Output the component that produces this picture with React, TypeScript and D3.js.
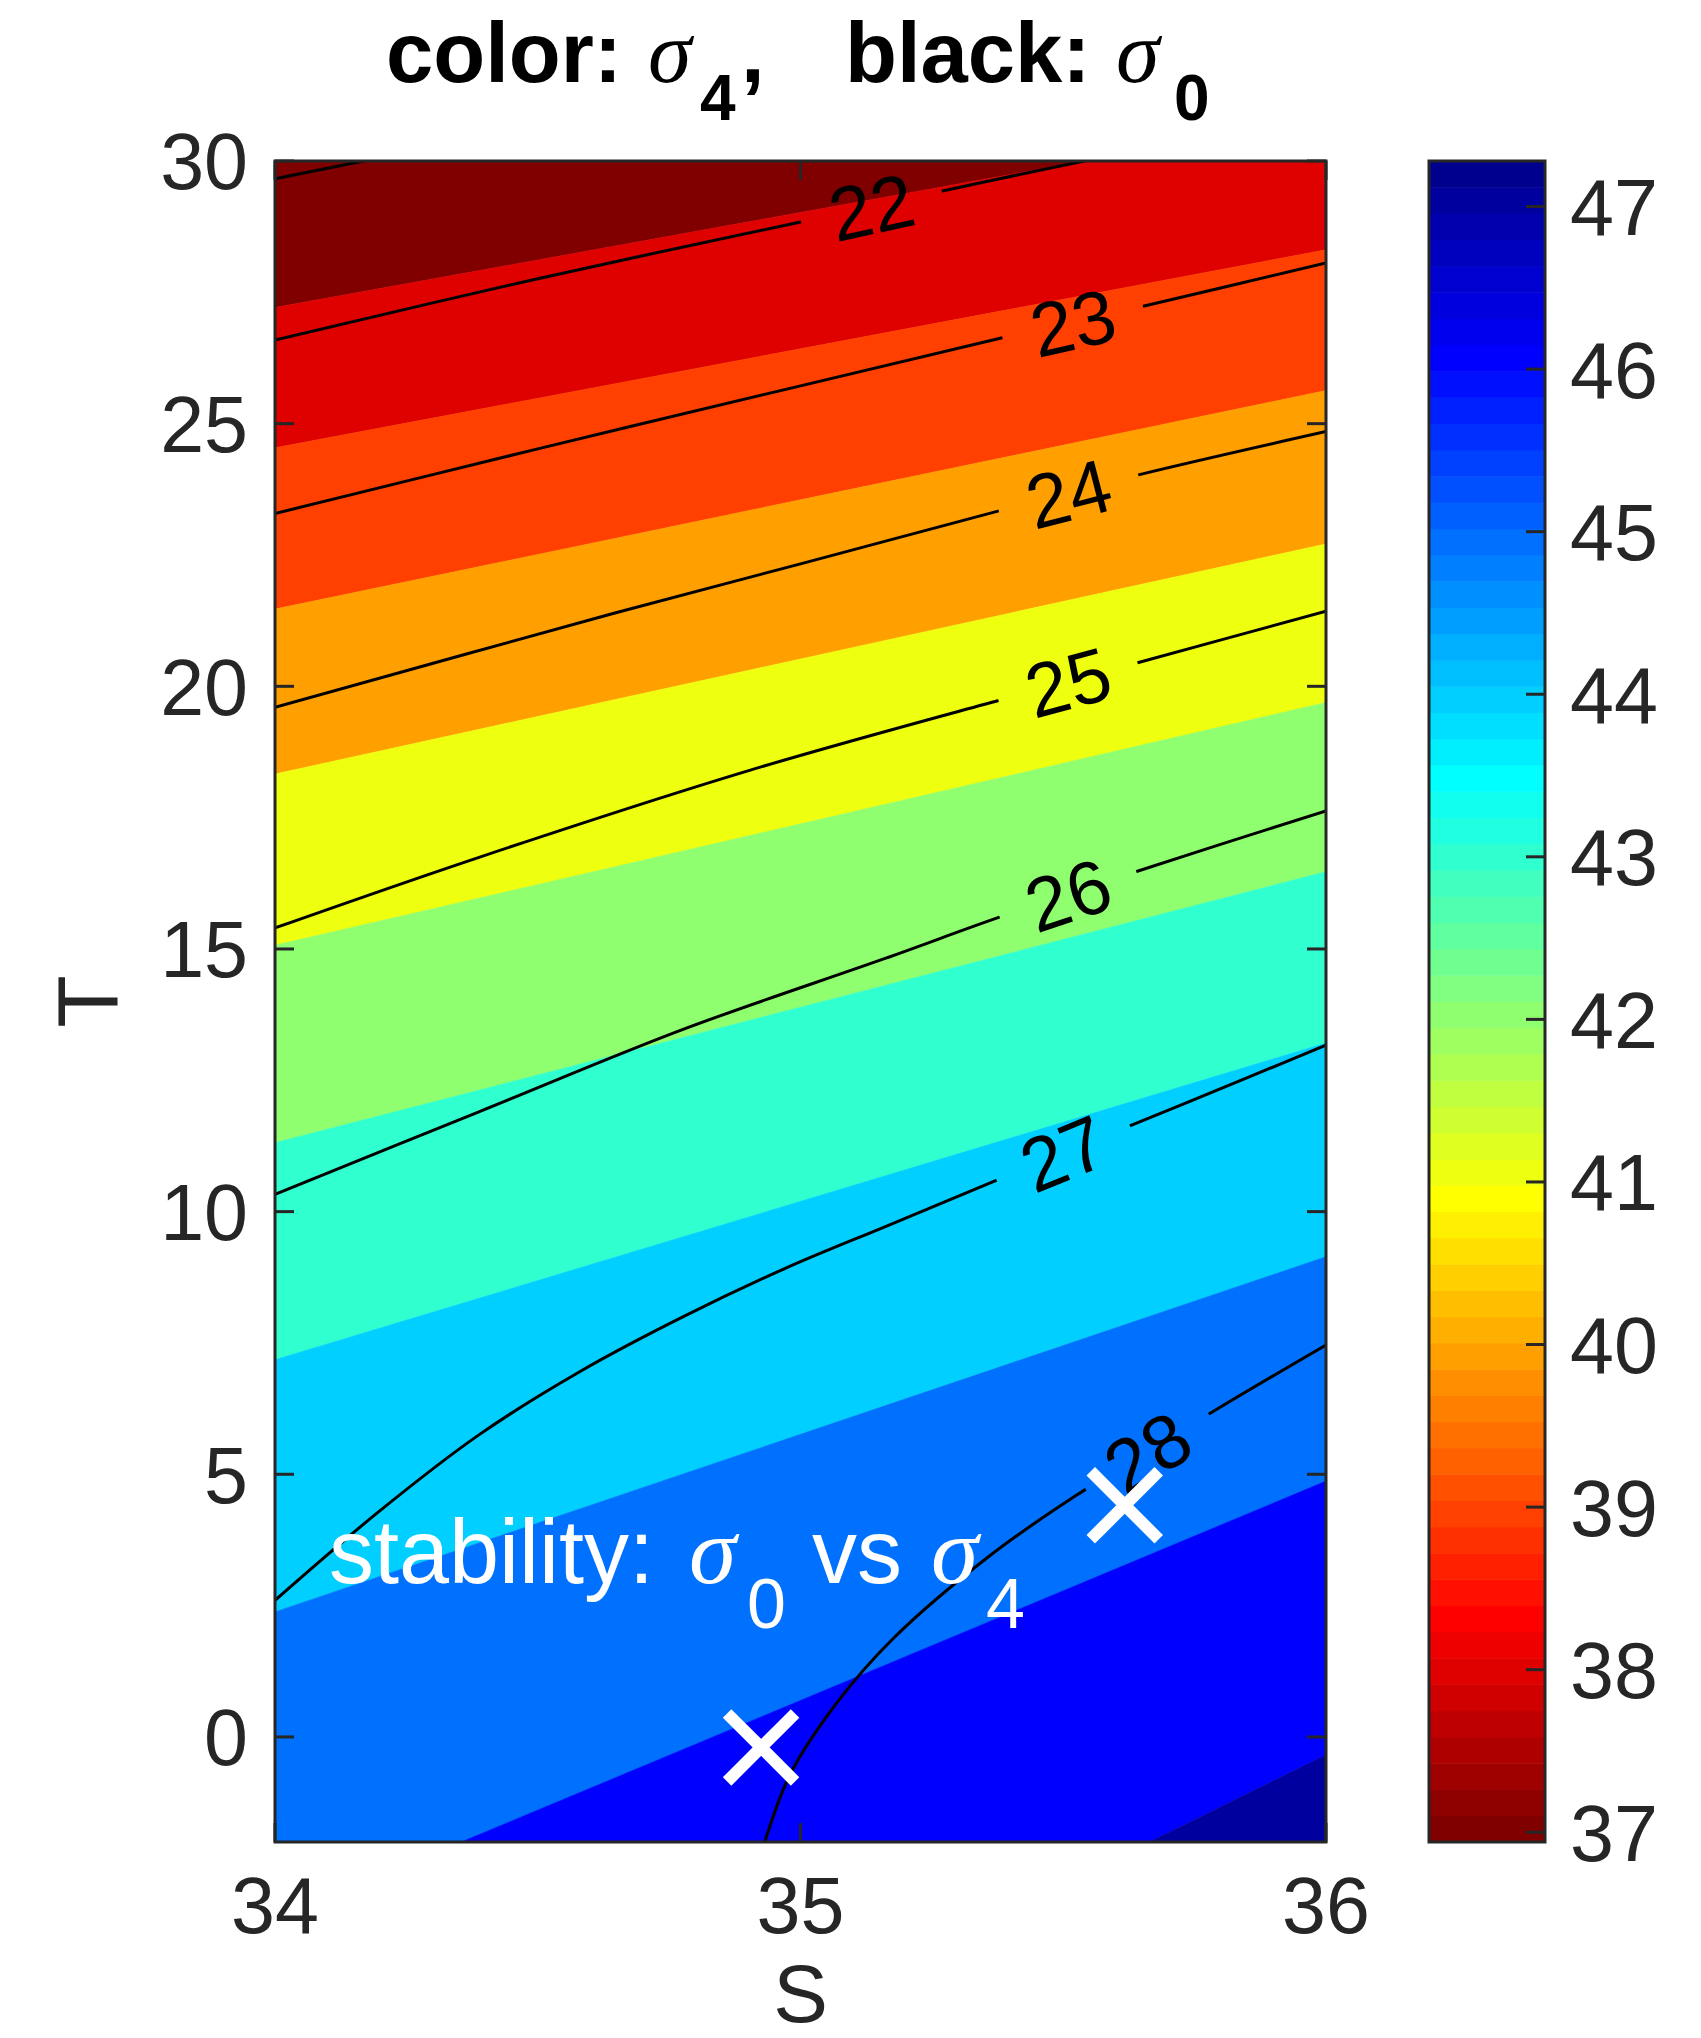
import React from "react";
import * as d3 from "d3";

const W = 1701;
const H = 2038;

// axes
const salinityDomain: [number, number] = [34, 36];
const tempDomain: [number, number] = [-2, 30];
const xTicks = [34, 35, 36];
const yTicks = [0, 5, 10, 15, 20, 25, 30];

// colorbar (sigma4)
const cbarRange: [number, number] = [36.94, 47.28];
const cbarTicks = [37, 38, 39, 40, 41, 42, 43, 44, 45, 46, 47];
const nColors = 64;

// sigma4 filled bands: levels and the T of each band boundary at S=34 and S=36
const sigma4Levels = [37, 38, 39, 40, 41, 42, 43, 44, 45, 46, 47];
const boundaryT_S34 = [27.21, 24.54, 21.47, 18.33, 15.07, 11.31, 7.18, 2.38, -3.48, -10.22];
const boundaryT_S36 = [30.83, 28.31, 25.63, 22.71, 19.69, 16.47, 13.21, 9.14, 4.87, -0.34];

// sigma0 contour lines: [S, T] points
const sigma0_21: [number, number][] = [[34, 29.66], [34.168, 30], [34.25, 30.16]];
const sigma0_22: [number, number][] = [[34, 26.59], [34.5, 27.76], [35.0, 28.84], [35.27, 29.43], [35.54, 30], [35.6, 30.12]];
const sigma0_23: [number, number][] = [[34, 23.29], [34.5, 24.52], [35.0, 25.72], [35.386, 26.64], [35.65, 27.23], [36, 28.06]];
const sigma0_24: [number, number][] = [[34, 19.6], [34.645, 21.39], [35.0, 22.33], [35.374, 23.33], [35.645, 24.03], [36, 24.85]];
const sigma0_25: [number, number][] = [[34, 15.4], [34.387, 16.74], [34.903, 18.4], [35.38, 19.74], [35.638, 20.44], [36, 21.43]];
const sigma0_26: [number, number][] = [[34, 10.33], [34.388, 11.9], [34.774, 13.46], [35.161, 14.82], [35.38, 15.61], [35.638, 16.47], [36, 17.63]];
const sigma0_27: [number, number][] = [[34, 2.6], [34.194, 4.26], [34.388, 5.75], [34.583, 6.97], [34.777, 8.0], [34.971, 8.92], [35.165, 9.73], [35.369, 10.58], [35.623, 11.62], [35.734, 12.07], [36, 13.17]];
const sigma0_28: [number, number][] = [[34.932, -2], [34.981, -0.7], [35.068, 0.635], [35.175, 1.86], [35.359, 3.44], [35.522, 4.58], [35.786, 6.2], [36, 7.46]];
const sigma0Lines = [sigma0_21, sigma0_22, sigma0_23, sigma0_24, sigma0_25, sigma0_26, sigma0_27, sigma0_28];

// contour labels: level and S position along its line
const labelLevels = [22, 23, 24, 25, 26, 27, 28];
const labelS = [35.135, 35.518, 35.51, 35.509, 35.509, 35.5, 35.66];
const labelLines = [sigma0_22, sigma0_23, sigma0_24, sigma0_25, sigma0_26, sigma0_27, sigma0_28];

// markers (S, T)
const markerS = [34.925, 35.617];
const markerT = [-0.2, 4.41];

// layout
const plot = { left: 275, right: 1326, top: 161, bottom: 1842 };
const cbar = { left: 1429, right: 1545 };
const axisColor = "#262626";
const sans = "'Liberation Sans', Arial, Helvetica, sans-serif";
const serif = "'Liberation Serif', 'Times New Roman', serif";

function jetColor(i: number, m = 64): string {
  const n = Math.ceil(m / 4);
  const u: number[] = [];
  for (let k = 1; k <= n; k++) u.push(k / n);
  for (let k = 1; k <= n - 1; k++) u.push(1);
  for (let k = n; k >= 1; k--) u.push(k / n);
  const gStart = Math.ceil(n / 2) - (m % 4 === 1 ? 1 : 0);
  const len = u.length;
  const val = (offset: number) => {
    const k = i - offset;
    return k >= 1 && k <= len ? u[k - 1] : 0;
  };
  const r = val(gStart + n);
  const g = val(gStart);
  const b = val(gStart - n);
  return d3.rgb(Math.round(r * 255), Math.round(g * 255), Math.round(b * 255)).formatHex();
}

function levelColor(v: number): string {
  let idx = Math.floor(((v - cbarRange[0]) / (cbarRange[1] - cbarRange[0])) * nColors) + 1;
  idx = Math.max(1, Math.min(nColors, idx));
  return jetColor(nColors + 1 - idx, nColors);
}

export default function App() {
  const x = d3.scaleLinear().domain(salinityDomain).range([plot.left, plot.right]);
  const y = d3.scaleLinear().domain(tempDomain).range([plot.bottom, plot.top]);
  const cy = d3.scaleLinear().domain(cbarRange).range([plot.bottom, plot.top]);

  const bands = sigma4Levels.map((lev, k) => {
    const top34 = k === 0 ? 45 : boundaryT_S34[k - 1];
    const top36 = k === 0 ? 45 : boundaryT_S36[k - 1];
    const bot34 = k === sigma4Levels.length - 1 ? -20 : boundaryT_S34[k];
    const bot36 = k === sigma4Levels.length - 1 ? -20 : boundaryT_S36[k];
    const pts: [number, number][] = [
      [x(34), y(top34)],
      [x(36), y(top36)],
      [x(36), y(bot36)],
      [x(34), y(bot34)],
    ];
    return { lev, d: "M" + pts.map((p) => p.join(",")).join("L") + "Z", color: levelColor(lev) };
  });

  const line = d3
    .line<[number, number]>()
    .x((p) => x(p[0]))
    .y((p) => y(p[1]))
    .curve(d3.curveCatmullRom.alpha(0.5));

  const interpT = (pts: [number, number][], s: number) => {
    for (let i = 0; i < pts.length - 1; i++) {
      if (s >= pts[i][0] && s <= pts[i + 1][0]) {
        const f = (s - pts[i][0]) / (pts[i + 1][0] - pts[i][0]);
        return { t: pts[i][1] + f * (pts[i + 1][1] - pts[i][1]), a: pts[i], b: pts[i + 1] };
      }
    }
    return { t: pts[pts.length - 1][1], a: pts[pts.length - 2], b: pts[pts.length - 1] };
  };

  const labels = labelLevels.map((lev, i) => {
    const pts = labelLines[i];
    const r = interpT(pts, labelS[i]);
    const px = x(labelS[i]);
    const py = y(r.t);
    const dx = x(r.b[0]) - x(r.a[0]);
    const dy = y(r.b[1]) - y(r.a[1]);
    const angle = (Math.atan2(dy, dx) * 180) / Math.PI;
    return { lev, px, py, angle };
  });

  const cellH = (cbarRange[1] - cbarRange[0]) / nColors;
  const cells = d3.range(nColors).map((i) => {
    const v0 = cbarRange[0] + i * cellH;
    const v1 = v0 + cellH;
    return { y0: cy(v1), y1: cy(v0), color: jetColor(nColors - i, nColors) };
  });

  const tickLen = 19;
  const mk = 34;

  return (
    <svg
      width={W}
      height={H}
      viewBox={`0 0 ${W} ${H}`}
      style={{ position: "absolute", left: 0, top: 0, display: "block", background: "#fff" }}
    >
      <defs>
        <clipPath id="plotClip">
          <rect x={plot.left} y={plot.top} width={plot.right - plot.left} height={plot.bottom - plot.top} />
        </clipPath>
        <mask id="labelGaps" maskUnits="userSpaceOnUse" x={0} y={0} width={W} height={H}>
          <rect x={0} y={0} width={W} height={H} fill="#fff" />
          {labels.map((l) => (
            <rect
              key={l.lev}
              x={-72}
              y={-40}
              width={144}
              height={80}
              fill="#000"
              transform={`translate(${l.px},${l.py}) rotate(${l.angle})`}
            />
          ))}
        </mask>
      </defs>

      <rect x={0} y={0} width={W} height={H} fill="#fff" />

      <g clipPath="url(#plotClip)">
        {bands.map((b) => (
          <path key={b.lev} d={b.d} fill={b.color} stroke={b.color} strokeWidth={0.6} />
        ))}
        <g mask="url(#labelGaps)">
          {sigma0Lines.map((pts, i) => (
            <path key={i} d={line(pts) || ""} fill="none" stroke="#000" strokeWidth={3} />
          ))}
        </g>
        {labels.map((l) => (
          <text
            key={l.lev}
            transform={`translate(${l.px},${l.py}) rotate(${l.angle})`}
            textAnchor="middle"
            dy="0.36em"
            fontFamily={sans}
            fontSize={76}
            fill="#000"
          >
            {l.lev}
          </text>
        ))}
        {markerS.map((s, i) => (
          <g key={i} stroke="#fff" strokeWidth={12}>
            <line x1={x(s) - mk} y1={y(markerT[i]) - mk} x2={x(s) + mk} y2={y(markerT[i]) + mk} />
            <line x1={x(s) - mk} y1={y(markerT[i]) + mk} x2={x(s) + mk} y2={y(markerT[i]) - mk} />
          </g>
        ))}
        <text fill="#fff" fontFamily={sans} fontSize={90}>
          <tspan x={329} y={1583}>stability:</tspan>
          <tspan x={689} y={1583} fontFamily={serif} fontStyle="italic" fontSize={96}>σ</tspan>
          <tspan x={747} y={1628} fontSize={70}>0</tspan>
          <tspan x={812} y={1583}>vs</tspan>
          <tspan x={931} y={1583} fontFamily={serif} fontStyle="italic" fontSize={96}>σ</tspan>
          <tspan x={986} y={1628} fontSize={70}>4</tspan>
        </text>
      </g>

      <rect
        x={plot.left}
        y={plot.top}
        width={plot.right - plot.left}
        height={plot.bottom - plot.top}
        fill="none"
        stroke={axisColor}
        strokeWidth={3}
      />
      {xTicks.map((t) => (
        <g key={"xt" + t} stroke={axisColor} strokeWidth={3}>
          <line x1={x(t)} x2={x(t)} y1={plot.bottom} y2={plot.bottom - tickLen} />
          <line x1={x(t)} x2={x(t)} y1={plot.top} y2={plot.top + tickLen} />
        </g>
      ))}
      {yTicks.map((t) => (
        <g key={"yt" + t} stroke={axisColor} strokeWidth={3}>
          <line x1={plot.left} x2={plot.left + tickLen} y1={y(t)} y2={y(t)} />
          <line x1={plot.right} x2={plot.right - tickLen} y1={y(t)} y2={y(t)} />
        </g>
      ))}
      {xTicks.map((t) => (
        <text key={"xl" + t} x={x(t)} y={1933} textAnchor="middle" fontFamily={sans} fontSize={79} fill={axisColor}>
          {t}
        </text>
      ))}
      {yTicks.map((t) => (
        <text key={"yl" + t} x={248} y={y(t)} dy="0.36em" textAnchor="end" fontFamily={sans} fontSize={79} fill={axisColor}>
          {t}
        </text>
      ))}
      <text x={x(35)} y={2022} textAnchor="middle" fontFamily={sans} fontSize={82} fill={axisColor}>
        S
      </text>
      <text
        transform={`translate(117,${(plot.top + plot.bottom) / 2}) rotate(-90)`}
        textAnchor="middle"
        fontFamily={sans}
        fontSize={86}
        fill={axisColor}
      >
        T
      </text>

      <text fontFamily={sans} fontWeight="bold" fontSize={85} fill="#000">
        <tspan x={386} y={82}>color:</tspan>
        <tspan x={648} y={82} fontFamily={serif} fontStyle="italic" fontWeight="normal" fontSize={88}>σ</tspan>
        <tspan x={700} y={120} fontSize={64}>4</tspan>
        <tspan x={741} y={82}>,</tspan>
        <tspan x={845} y={82}>black:</tspan>
        <tspan x={1116} y={82} fontFamily={serif} fontStyle="italic" fontWeight="normal" fontSize={88}>σ</tspan>
        <tspan x={1174} y={120} fontSize={64}>0</tspan>
      </text>

      {cells.map((c, i) => (
        <rect key={i} x={cbar.left} y={c.y0} width={cbar.right - cbar.left} height={c.y1 - c.y0 + 0.5} fill={c.color} />
      ))}
      <rect
        x={cbar.left}
        y={plot.top}
        width={cbar.right - cbar.left}
        height={plot.bottom - plot.top}
        fill="none"
        stroke={axisColor}
        strokeWidth={3}
      />
      {cbarTicks.map((t) => (
        <g key={"ct" + t}>
          <line x1={cbar.right} x2={cbar.right - tickLen} y1={cy(t)} y2={cy(t)} stroke={axisColor} strokeWidth={3} />
          <text x={1570} y={cy(t)} dy="0.36em" fontFamily={sans} fontSize={79} fill={axisColor}>
            {t}
          </text>
        </g>
      ))}
    </svg>
  );
}
